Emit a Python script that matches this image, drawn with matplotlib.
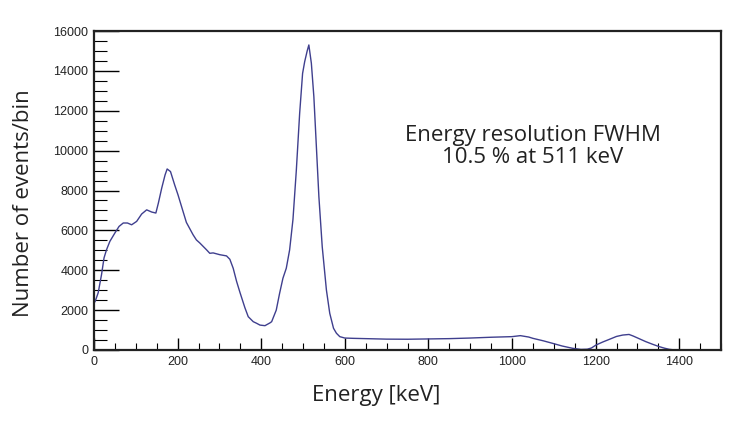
import matplotlib
matplotlib.use("Agg")
import matplotlib.pyplot as plt
from matplotlib.ticker import MultipleLocator

# ---------------------------------------------------------------------
# Data
# ---------------------------------------------------------------------
ENERGY_KEV = [
    0, 3, 10, 18, 24, 30, 38, 50, 60, 70, 80, 90, 102, 114, 126, 138,
    148, 154, 162, 170, 175, 183, 193, 201, 213, 221, 237, 245, 253, 269,
    277, 285, 301, 317, 325, 333, 341, 349, 361, 369, 381, 389, 397, 409,
    421, 425, 436, 444, 452, 460, 468, 476, 484, 492, 499, 504, 510, 514,
    520, 526, 532, 538, 546, 556, 564, 573, 580, 588, 600, 620, 650, 700,
    750, 800, 850, 900, 950, 1000, 1020, 1040, 1050, 1075, 1097, 1120,
    1145, 1165, 1180, 1190, 1201, 1217, 1233, 1250, 1265, 1280, 1290,
    1305, 1320, 1336, 1352, 1365, 1376, 1390, 1400, 1500,
]
COUNTS = [
    2350, 2450, 2870, 3780, 4620, 5030, 5450, 5870, 6200, 6370, 6370, 6280,
    6450, 6820, 7030, 6920, 6870, 7370, 8120, 8780, 9080, 8950, 8280, 7780,
    6950, 6400, 5780, 5520, 5370, 5030, 4850, 4870, 4780, 4720, 4550, 4100,
    3450, 2900, 2120, 1670, 1420, 1340, 1250, 1220, 1360, 1420, 2000, 2840,
    3600, 4100, 5020, 6550, 9000, 11870, 13870, 14460, 15000, 15300, 14380,
    12700, 10200, 7690, 5180, 3010, 1840, 1090, 840, 670, 600, 585, 570,
    545, 540, 555, 570, 600, 640, 670, 720, 650, 585, 460, 335, 200, 85,
    30, 40, 100, 250, 400, 535, 680, 750, 780, 700, 560, 420, 290, 170,
    90, 35, 0, 0, 0,
]

X_LIMITS = (0, 1500)
Y_LIMITS = (0, 16000)

ANNOTATION = "Energy resolution FWHM\n10.5 % at 511 keV"
X_LABEL = "Energy [keV]"
Y_LABEL = "Number of events/bin"

LINE_COLOR = "#3f3f8e"
TEXT_COLOR = "#222222"
LABEL_FONT = ["Open Sans", "DejaVu Sans"]
TICK_FONT = ["Liberation Sans", "DejaVu Sans"]


def main():
    fig = plt.figure(figsize=(7.40, 4.24), dpi=100)
    ax = fig.add_axes([94 / 740, 74 / 424, 627 / 740, 319 / 424])

    ax.plot(ENERGY_KEV, COUNTS, color=LINE_COLOR, linewidth=1.0)

    ax.set_xlim(*X_LIMITS)
    ax.set_ylim(*Y_LIMITS)

    # ROOT-like ticks: inside, only bottom/left
    ax.xaxis.set_major_locator(MultipleLocator(200))
    ax.xaxis.set_minor_locator(MultipleLocator(50))
    ax.yaxis.set_major_locator(MultipleLocator(2000))
    ax.yaxis.set_minor_locator(MultipleLocator(500))
    ax.tick_params(axis="x", which="major", direction="in", length=9, width=1, pad=4)
    ax.tick_params(axis="x", which="minor", direction="in", length=5, width=0.8)
    ax.tick_params(axis="y", which="major", direction="in", length=18, width=1, pad=4)
    ax.tick_params(axis="y", which="minor", direction="in", length=9, width=0.8)
    for lab in ax.get_xticklabels() + ax.get_yticklabels():
        lab.set_fontfamily(TICK_FONT)
        lab.set_fontsize(9)
        lab.set_color(TEXT_COLOR)

    for sp in ax.spines.values():
        sp.set_linewidth(1.6)
        sp.set_color(TEXT_COLOR)

    ax.set_xlabel(X_LABEL, family=LABEL_FONT, fontsize=16, color=TEXT_COLOR)
    ax.xaxis.set_label_coords(0.45, -0.11)
    ax.set_ylabel(Y_LABEL, family=LABEL_FONT, fontsize=16, color=TEXT_COLOR)
    ax.yaxis.set_label_coords(-0.095, 0.46)

    ax.text(1050, 10200, ANNOTATION, family=LABEL_FONT, fontsize=16,
            color=TEXT_COLOR, ha="center", va="center", linespacing=1.1)

    fig.savefig("out.png", dpi=100)
    plt.close(fig)


if __name__ == "__main__":
    main()
